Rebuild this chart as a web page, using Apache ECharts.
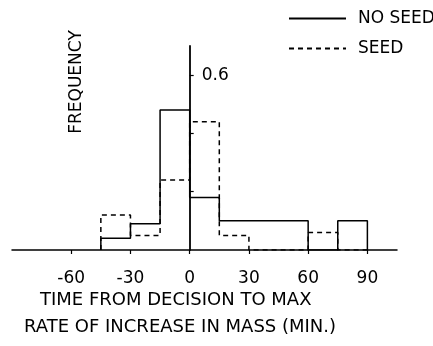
<!DOCTYPE html>
<html>
<head>
<meta charset="utf-8">
<script src="https://cdn.jsdelivr.net/npm/echarts@6/dist/echarts.min.js"></script>
<style>
  html, body { margin: 0; padding: 0; background: #fff; }
  #chart { width: 433px; height: 346px; }
</style>
</head>
<body>
<div id="chart"></div>
<script>
// bin edges in minutes, 15 min bins
var binEdges = [-45, -30, -15, 0, 15, 30, 45, 60, 75, 90];
// relative frequency per bin
var noSeedFreq = [0.04, 0.09, 0.48, 0.18, 0.10, 0.10, 0.10, 0, 0.10];
var seedFreq = [0.12, 0.05, 0.24, 0.44, 0.05, 0, 0, 0.06, 0];
var xTickLabels = [-60, -30, 0, 30, 60, 90];
var yTickValues = [0.2, 0.4, 0.6];
var yTickLabels = [0.6];

var FONT = '"DejaVu Sans", sans-serif';

// histogram outline (step path) from edges + heights
function outline(edges, freq) {
  var pts = [[edges[0], 0]];
  for (var i = 0; i < freq.length; i++) {
    pts.push([edges[i], freq[i]]);
    pts.push([edges[i + 1], freq[i]]);
  }
  pts.push([edges[edges.length - 1], 0]);
  return pts;
}

var GRID_LEFT = 12, GRID_RIGHT = 36, X_MIN = -90, X_MAX = 105;
// shift the y axis so it sits on x = 0 (labels follow, unlike onZero)
var yOffset = -(0 - X_MIN) / (X_MAX - X_MIN) * (433 - GRID_LEFT - GRID_RIGHT);

var myChart = echarts.init(document.getElementById('chart'));

var option = {
  animation: false,
  backgroundColor: '#fff',
  textStyle: { fontFamily: FONT, color: '#000' },
  legend: {
    left: 283,
    top: 5,
    orient: 'vertical',
    itemWidth: 57,
    itemHeight: 14,
    itemGap: 13,
    itemStyle: { opacity: 0 },
    textStyle: { fontFamily: FONT, fontSize: 17, color: '#000', padding: [0, 0, 0, 7] },
    data: ['NO SEED', 'SEED']
  },
  grid: { left: GRID_LEFT, right: GRID_RIGHT, top: 46, bottom: 96 },
  xAxis: {
    type: 'value',
    min: X_MIN,
    max: X_MAX,
    interval: 30,
    splitLine: { show: false },
    axisLine: { lineStyle: { color: '#000', width: 1.5 } },
    axisTick: { length: 4, customValues: xTickLabels, lineStyle: { color: '#000', width: 1.2 } },
    axisLabel: {
      customValues: xTickLabels,
      margin: 20,
      fontFamily: FONT,
      fontSize: 17,
      color: '#000'
    }
  },
  yAxis: {
    type: 'value',
    position: 'left',
    offset: yOffset,
    min: 0,
    max: 0.7,
    interval: 0.2,
    splitLine: { show: false },
    axisLine: { onZero: false, lineStyle: { color: '#000', width: 1.8 } },
    axisTick: { length: 4, inside: true, customValues: yTickValues, lineStyle: { color: '#000', width: 1.2 } },
    axisLabel: {
      inside: true,
      customValues: yTickLabels,
      margin: 12,
      fontFamily: FONT,
      fontSize: 17,
      color: '#000'
    }
  },
  graphic: [
    {
      type: 'text',
      left: 40,
      top: 291,
      style: { text: 'TIME FROM DECISION TO MAX', font: '18px ' + FONT, fill: '#000' }
    },
    {
      type: 'text',
      left: 24,
      top: 318,
      style: { text: 'RATE OF INCREASE IN MASS (MIN.)', font: '18px ' + FONT, fill: '#000' }
    },
    {
      type: 'text',
      x: 77,
      y: 82,
      rotation: Math.PI / 2,
      style: { text: 'FREQUENCY', font: '17px ' + FONT, fill: '#000', align: 'center', verticalAlign: 'middle' }
    }
  ],
  series: [
    {
      name: 'NO SEED',
      type: 'line',
      symbol: 'none',
      data: outline(binEdges, noSeedFreq),
      lineStyle: { color: '#000', width: 1.5, type: 'solid' },
      itemStyle: { color: '#000' }
    },
    {
      name: 'SEED',
      type: 'line',
      symbol: 'none',
      data: outline(binEdges, seedFreq),
      lineStyle: { color: '#000', width: 1.5, type: [5, 4] },
      itemStyle: { color: '#000' }
    }
  ]
};

myChart.setOption(option);
window.addEventListener('resize', function () { myChart.resize(); });
</script>
</body>
</html>
